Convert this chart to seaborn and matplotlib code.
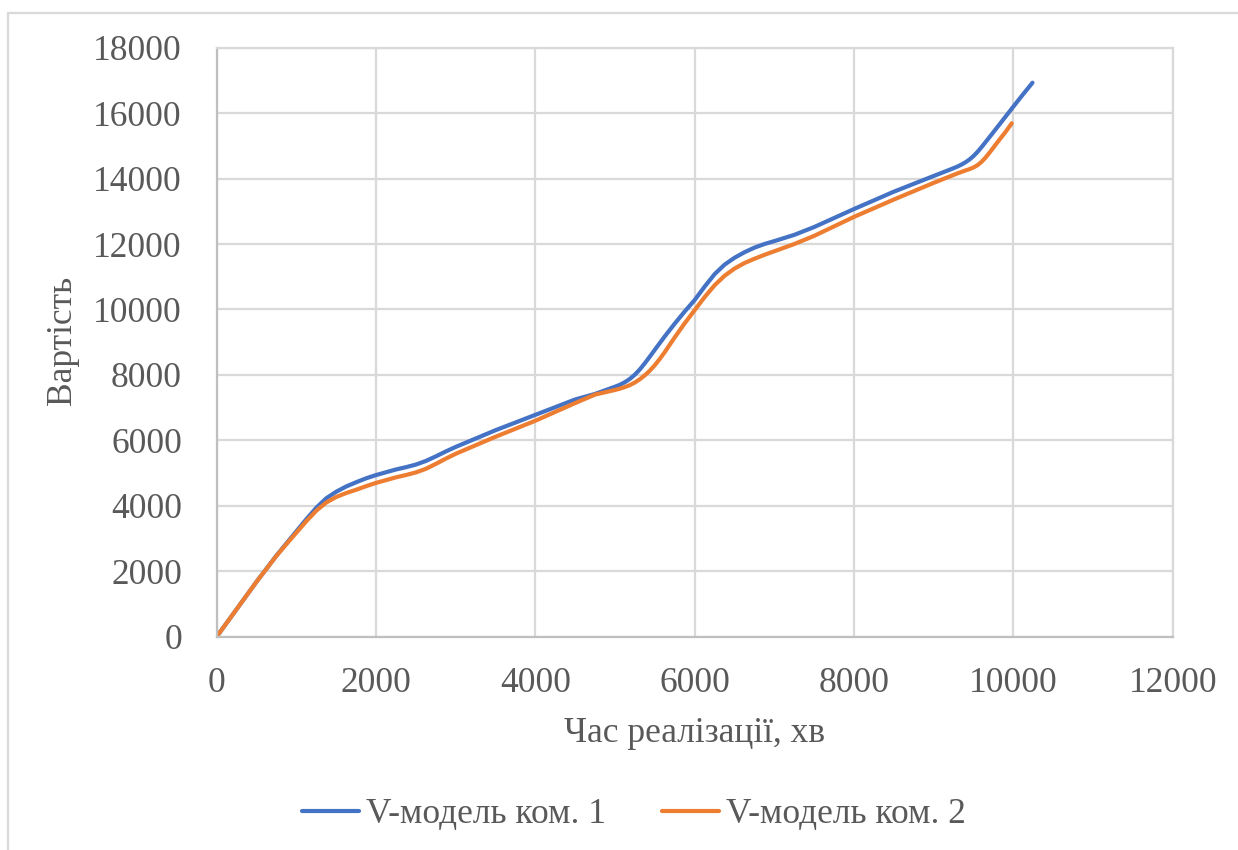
import matplotlib
matplotlib.use("Agg")
import matplotlib.pyplot as plt
from matplotlib.patches import Rectangle
import pandas as pd
import seaborn as sns

# Realisation time (min) and cost for the two teams
time_team1 = [0, 250, 500, 750, 875, 1000, 1125, 1250, 1375, 1500, 1625, 1750, 1875,
              2000, 2250, 2375, 2500, 2625, 2750, 2875, 3000, 3500, 4000, 4500, 4750,
              5000, 5062, 5125, 5187, 5250, 5312, 5375, 5437, 5500, 5625, 5750, 5875,
              6000, 6125, 6250, 6375, 6500, 6625, 6750, 6875, 7000, 7250, 7500, 8000,
              8500, 9000, 9200, 9300, 9350, 9400, 9450, 9500, 9550, 9600, 9625, 9750,
              9875, 10000, 10120, 10240]
cost_team1 = [0, 840, 1680, 2480, 2850, 3220, 3590, 3940, 4230, 4430, 4590, 4720, 4840,
              4940, 5110, 5180, 5260, 5370, 5510, 5660, 5800, 6310, 6780, 7250, 7420,
              7640, 7700, 7780, 7880, 8010, 8170, 8360, 8560, 8770, 9180, 9570, 9940,
              10290, 10700, 11080, 11370, 11580, 11750, 11890, 12000, 12090, 12280, 12520, 13070,
              13600, 14080, 14270, 14370, 14430, 14500, 14585, 14690, 14815, 14960, 15035, 15420,
              15810, 16200, 16570, 16930]

time_team2 = [0, 250, 500, 750, 875, 1000, 1125, 1250, 1375, 1500, 1625, 1750, 1875,
              2000, 2250, 2375, 2500, 2625, 2750, 2875, 3000, 3500, 4000, 4500, 4750,
              5000, 5062, 5125, 5187, 5250, 5312, 5375, 5437, 5500, 5562, 5625, 5750,
              5875, 6000, 6125, 6250, 6375, 6500, 6625, 6750, 6875, 7000, 7250, 7500,
              8000, 8500, 9000, 9300, 9400, 9450, 9500, 9550, 9600, 9650, 9700, 9750,
              9800, 9900, 9980]
cost_team2 = [0, 840, 1680, 2470, 2830, 3180, 3530, 3850, 4100, 4270, 4390, 4490, 4600,
              4700, 4870, 4940, 5020, 5130, 5280, 5440, 5590, 6110, 6600, 7140, 7400,
              7540, 7580, 7630, 7690, 7770, 7870, 7990, 8130, 8300, 8490, 8700, 9150,
              9580, 9980, 10380, 10740, 11030, 11250, 11420, 11550, 11670, 11780, 12000, 12250,
              12830, 13360, 13870, 14160, 14250, 14290, 14340, 14410, 14510, 14640, 14790, 14950,
              15110, 15420, 15690]

series_names = ["V-модель ком. 1", "V-модель ком. 2"]
series_colors = ["#4472C4", "#ED7D31"]

x_ticks = [0, 2000, 4000, 6000, 8000, 10000, 12000]
y_ticks = [0, 2000, 4000, 6000, 8000, 10000, 12000, 14000, 16000, 18000]

x_label = "Час реалізації, хв"
y_label = "Вартість"

df = pd.concat([
    pd.DataFrame({"t": time_team1, "v": cost_team1, "s": series_names[0]}),
    pd.DataFrame({"t": time_team2, "v": cost_team2, "s": series_names[1]}),
], ignore_index=True)

sns.set_theme(style="white")
plt.rcParams["font.family"] = ["Liberation Serif", "DejaVu Serif"]
text_color = "#595959"

fig = plt.figure(figsize=(12.38, 8.5), dpi=100)
ax = fig.add_axes([216.7 / 1238, 1 - 636.7 / 850, 956 / 1238, 589 / 850])

sns.lineplot(data=df, x="t", y="v", hue="s", palette=series_colors,
             sort=False, estimator=None, linewidth=3.0, ax=ax, legend=False)
for line in ax.lines:
    line.set_solid_capstyle("round")
    line.set_solid_joinstyle("round")

ax.set_xlim(0, 12000)
ax.set_ylim(0, 18000)
ax.set_xticks(x_ticks)
ax.set_yticks(y_ticks)
ax.set_xticklabels([str(v) for v in x_ticks])
ax.set_yticklabels([str(v) for v in y_ticks])
ax.tick_params(axis="both", length=0, labelsize=25.5, colors=text_color)
ax.tick_params(axis="y", pad=25)
ax.tick_params(axis="x", pad=22)

ax.grid(True, color="#D9D9D9", linewidth=1.6)
ax.set_axisbelow(True)
for side in ["top", "right"]:
    ax.spines[side].set_color("#D9D9D9")
    ax.spines[side].set_linewidth(1.6)
for side in ["left", "bottom"]:
    ax.spines[side].set_color("#BFBFBF")
    ax.spines[side].set_linewidth(1.6)

ax.set_xlabel("")
ax.set_ylabel("")
fig.text(695 / 1238, 1 - 733 / 850, x_label, ha="center", va="center",
         fontsize=25.5, color=text_color)
fig.text(63 / 1238, 1 - 340 / 850, y_label, ha="center", va="center",
         rotation=90, fontsize=25.5, color=text_color)

handles = [plt.Line2D([], [], color=c, linewidth=3.0, solid_capstyle="round")
           for c in series_colors]
fig.legend(handles, series_names, loc="center", bbox_to_anchor=(634 / 1238, 1 - 815 / 850),
           ncol=2, frameon=False, fontsize=25.5, labelcolor=text_color,
           handlelength=1.6, handletextpad=0.2, columnspacing=1.6)

# Outer chart frame
fig.patches.append(Rectangle((7.5 / 1238, -0.1), 1.2, 1.1 - 13.5 / 850,
                             transform=fig.transFigure, fill=False,
                             edgecolor="#D9D9D9", linewidth=1.6))

fig.savefig("out.png", dpi=100, facecolor="white")
